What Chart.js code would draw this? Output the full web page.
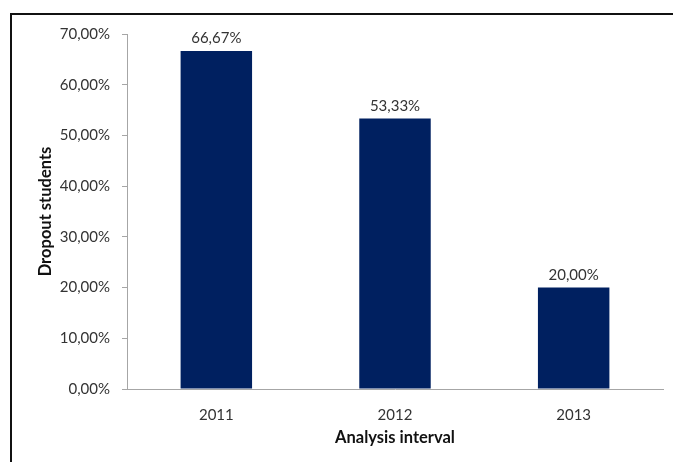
<!DOCTYPE html>
<html>
<head>
<meta charset="utf-8">
<script src="https://cdn.jsdelivr.net/npm/chart.js@4"></script>
<style>
  body { margin: 0; background: #fff; }
  #wrap { position: relative; width: 673px; height: 462px; }
  #frame { position: absolute; left: 10px; top: 13px; right: 0; bottom: 0; border-top: 2px solid #111; border-left: 2px solid #111; pointer-events: none; }
  canvas { position: absolute; left: 0; top: 0; }
</style>
</head>
<body>
<div id="wrap">
  <canvas id="myChart" width="673" height="462"></canvas>
  <div id="frame"></div>
</div>
<script>
var years = ['2011', '2012', '2013'];
var dropout = [66.67, 53.33, 20.00];
var yMax = 70;
var yStep = 10;

function pct(v) {
    return v.toFixed(2).replace('.', ',') + '%';
}

// labels on top of the bars
var barLabels = {
    id: 'barLabels',
    afterDatasetsDraw: function (chart) {
        var c = chart.ctx;
        var meta = chart.getDatasetMeta(0);
        c.save();
        c.font = '15px Lato';
        c.fillStyle = '#333333';
        c.textAlign = 'center';
        c.textBaseline = 'bottom';
        meta.data.forEach(function (bar, i) {
            c.fillText(pct(dropout[i]), bar.x, bar.y - 5);
        });
        c.restore();
    }
};

var ctx = document.getElementById('myChart').getContext('2d');
var chart = new Chart(ctx, {
    type: 'bar',
    data: {
        labels: years,
        datasets: [{
            data: dropout,
            backgroundColor: '#002060',
            borderWidth: 0,
            categoryPercentage: 0.8,
            barPercentage: 0.5
        }]
    },
    options: {
        responsive: false,
        animation: false,
        layout: { padding: { left: 0, right: 10, top: 34, bottom: 0 } },
        plugins: { legend: { display: false }, tooltip: { enabled: false } },
        scales: {
            x: {
                afterFit: function (s) { s.height = 73; },
                grid: { display: false },
                border: { display: true, color: '#a6a6a6', width: 1 },
                ticks: { color: '#333333', font: { family: 'Lato', size: 15 }, padding: 9 },
                title: { display: true, text: 'Analysis interval', color: '#111', font: { family: 'Lato', size: 16.5, weight: 'bold' }, padding: { bottom: 14 } }
            },
            y: {
                min: 0,
                max: yMax,
                afterFit: function (s) { s.width = 127; },
                grid: { drawOnChartArea: false, drawTicks: true, tickLength: 5, color: '#a6a6a6' },
                border: { display: true, color: '#a6a6a6', width: 1 },
                ticks: { stepSize: yStep, color: '#333333', font: { family: 'Lato', size: 15 }, padding: 12, callback: function (v) { return pct(v); } },
                title: { display: true, text: 'Dropout students', color: '#111', font: { family: 'Lato', size: 16.5, weight: 'bold' }, padding: { top: 36 } }
            }
        }
    },
    plugins: [barLabels]
});
</script>
</body>
</html>
